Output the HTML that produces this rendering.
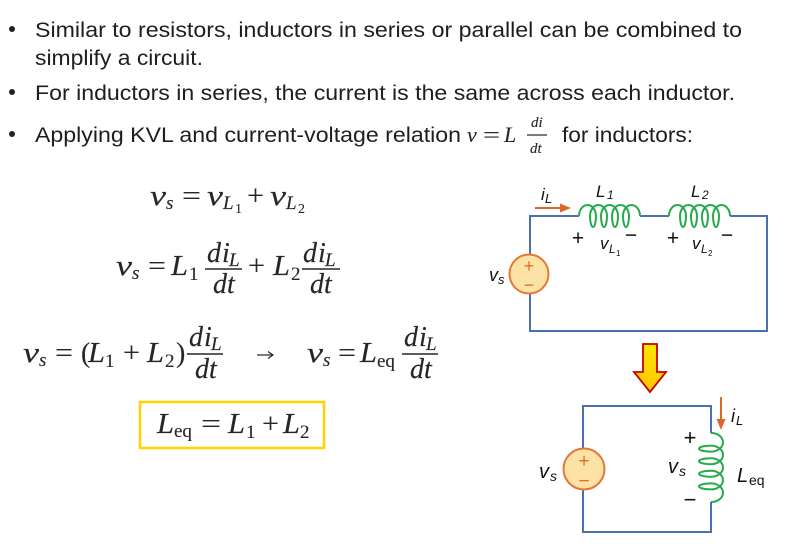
<!DOCTYPE html>
<html>
<head>
<meta charset="utf-8">
<style>
  html,body{margin:0;padding:0;background:#fff;}
  svg{display:block;}
  .bt{font-family:"Liberation Sans",Arial,sans-serif;font-size:21.5px;fill:#1e1e1e;}
  .mi{font-family:"Liberation Serif","Times New Roman",serif;font-style:italic;fill:#262626;stroke:#262626;stroke-width:0.15;}
  .mu{font-family:"Liberation Serif","Times New Roman",serif;fill:#262626;stroke:#262626;stroke-width:0.12;}
  .ci{font-family:"Liberation Sans",Arial,sans-serif;font-style:italic;fill:#111;}
  .cu{font-family:"Liberation Sans",Arial,sans-serif;fill:#111;}
  .wire{stroke:#4a70b3;stroke-width:2;fill:none;}
  .coil{stroke:#25aa4c;stroke-width:2;fill:none;}
</style>
</head>
<body>
<svg width="808" height="547" viewBox="0 0 808 547" xmlns="http://www.w3.org/2000/svg">
  <rect width="808" height="547" fill="#fff"/>

  <!-- Bullets -->
  <circle cx="12" cy="29" r="3" fill="#222"/>
  <circle cx="12" cy="92" r="3" fill="#222"/>
  <circle cx="12" cy="134" r="3" fill="#222"/>
  <text class="bt" x="35" y="37" textLength="707" lengthAdjust="spacingAndGlyphs">Similar to resistors, inductors in series or parallel can be combined to</text>
  <text class="bt" x="35" y="65" textLength="168" lengthAdjust="spacingAndGlyphs">simplify a circuit.</text>
  <text class="bt" x="35" y="100" textLength="700" lengthAdjust="spacingAndGlyphs">For inductors in series, the current is the same across each inductor.</text>
  <text class="bt" x="35" y="142" textLength="426" lengthAdjust="spacingAndGlyphs">Applying KVL and current-voltage relation</text>
  <text class="mi" x="467" y="142" font-size="22" style="stroke-width:0.1">v</text>
  <text class="mu" x="483" y="142" font-size="22" textLength="17" lengthAdjust="spacingAndGlyphs" style="stroke-width:0.1">=</text>
  <text class="mi" x="504" y="142" font-size="22" style="stroke-width:0.1">L</text>
  <text class="mi" x="531" y="127" font-size="15" style="stroke-width:0.1">di</text>
  <line x1="527" y1="135" x2="547" y2="135" stroke="#2a2a2a" stroke-width="1.3"/>
  <text class="mi" x="530" y="153" font-size="15" style="stroke-width:0.1">dt</text>
  <text class="bt" x="562" y="142" textLength="131" lengthAdjust="spacingAndGlyphs">for inductors:</text>

  <!-- Eq 1 -->
  <g font-size="28">
    <text class="mi" x="150" y="205" textLength="16" lengthAdjust="spacingAndGlyphs">v</text>
    <text class="mi" x="166" y="209" font-size="19">s</text>
    <text class="mu" x="182" y="205" textLength="19" lengthAdjust="spacingAndGlyphs">=</text>
    <text class="mi" x="207" y="205" textLength="16" lengthAdjust="spacingAndGlyphs">v</text>
    <text class="mi" x="223" y="209" font-size="19">L</text>
    <text class="mu" x="235" y="213" font-size="14">1</text>
    <text class="mu" x="247" y="205" textLength="17" lengthAdjust="spacingAndGlyphs">+</text>
    <text class="mi" x="270" y="205" textLength="16" lengthAdjust="spacingAndGlyphs">v</text>
    <text class="mi" x="286" y="209" font-size="19">L</text>
    <text class="mu" x="298" y="213" font-size="14">2</text>
  </g>

  <!-- Eq 2 -->
  <g font-size="28">
    <text class="mi" x="116" y="275" textLength="16" lengthAdjust="spacingAndGlyphs">v</text>
    <text class="mi" x="132" y="279" font-size="19">s</text>
    <text class="mu" x="148" y="275" textLength="18" lengthAdjust="spacingAndGlyphs">=</text>
    <text class="mi" x="171" y="275" textLength="17" lengthAdjust="spacingAndGlyphs">L</text>
    <text class="mu" x="189" y="280" font-size="19">1</text>
    <text class="mi" x="207" y="262">d</text>
    <text class="mi" x="222" y="262">i</text>
    <text class="mi" x="229" y="266" font-size="19">L</text>
    <line x1="205" y1="269" x2="242" y2="269" stroke="#262626" stroke-width="1.4"/>
    <text class="mi" x="213" y="293">dt</text>
    <text class="mu" x="248" y="275" textLength="17" lengthAdjust="spacingAndGlyphs">+</text>
    <text class="mi" x="273" y="275" textLength="17" lengthAdjust="spacingAndGlyphs">L</text>
    <text class="mu" x="291" y="280" font-size="19">2</text>
    <text class="mi" x="303" y="262">d</text>
    <text class="mi" x="318" y="262">i</text>
    <text class="mi" x="325" y="266" font-size="19">L</text>
    <line x1="302" y1="269" x2="340" y2="269" stroke="#262626" stroke-width="1.4"/>
    <text class="mi" x="310" y="293">dt</text>
  </g>

  <!-- Eq 3 -->
  <g font-size="28">
    <text class="mi" x="23" y="362" textLength="16" lengthAdjust="spacingAndGlyphs">v</text>
    <text class="mi" x="39" y="366" font-size="19">s</text>
    <text class="mu" x="55" y="362" textLength="18" lengthAdjust="spacingAndGlyphs">=</text>
    <text class="mu" x="81" y="362">(</text>
    <text class="mi" x="88" y="362" textLength="17" lengthAdjust="spacingAndGlyphs">L</text>
    <text class="mu" x="105" y="367" font-size="19">1</text>
    <text class="mu" x="123" y="362" textLength="17" lengthAdjust="spacingAndGlyphs">+</text>
    <text class="mi" x="147" y="362" textLength="17" lengthAdjust="spacingAndGlyphs">L</text>
    <text class="mu" x="165" y="367" font-size="19">2</text>
    <text class="mu" x="176" y="362">)</text>
    <text class="mi" x="189" y="346">d</text>
    <text class="mi" x="204" y="346">i</text>
    <text class="mi" x="211" y="350" font-size="19">L</text>
    <line x1="187" y1="354" x2="223" y2="354" stroke="#262626" stroke-width="1.4"/>
    <text class="mi" x="195" y="378">dt</text>
    <line x1="257" y1="355" x2="272" y2="355" stroke="#262626" stroke-width="1.2"/>
    <path d="M268,351.5 L273,355 L268,358.5" fill="none" stroke="#262626" stroke-width="1.2"/>
    <text class="mi" x="307" y="362" textLength="16" lengthAdjust="spacingAndGlyphs">v</text>
    <text class="mi" x="323" y="366" font-size="19">s</text>
    <text class="mu" x="338" y="362" textLength="18" lengthAdjust="spacingAndGlyphs">=</text>
    <text class="mi" x="360" y="362" textLength="17" lengthAdjust="spacingAndGlyphs">L</text>
    <text class="mu" x="377" y="367" font-size="19">eq</text>
    <text class="mi" x="404" y="346">d</text>
    <text class="mi" x="419" y="346">i</text>
    <text class="mi" x="426" y="350" font-size="19">L</text>
    <line x1="402" y1="354" x2="438" y2="354" stroke="#262626" stroke-width="1.4"/>
    <text class="mi" x="410" y="378">dt</text>
  </g>

  <!-- Boxed result -->
  <rect x="140" y="402" width="184" height="46" fill="none" stroke="#ffd400" stroke-width="2.5"/>
  <g font-size="28">
    <text class="mi" x="157" y="433" textLength="17" lengthAdjust="spacingAndGlyphs">L</text>
    <text class="mu" x="174" y="437" font-size="19">eq</text>
    <text class="mu" x="201" y="433" textLength="20" lengthAdjust="spacingAndGlyphs">=</text>
    <text class="mi" x="228" y="433" textLength="17" lengthAdjust="spacingAndGlyphs">L</text>
    <text class="mu" x="246" y="438" font-size="19">1</text>
    <text class="mu" x="262" y="433" textLength="17" lengthAdjust="spacingAndGlyphs">+</text>
    <text class="mi" x="283" y="433" textLength="17" lengthAdjust="spacingAndGlyphs">L</text>
    <text class="mu" x="300" y="438" font-size="19">2</text>
  </g>

  <!-- Circuit 1 -->
  <path class="wire" d="M530,254 V216 H579 M640,216 H669 M730,216 H767 V331 H530 V294"/>
  <path class="coil" d="M579,216 A8.5,11 0 0 1 596,216 A3,11 0 0 1 590,216 A8.5,11 0 0 1 607,216 A3,11 0 0 1 601,216 A8.5,11 0 0 1 618,216 A3,11 0 0 1 612,216 A8.5,11 0 0 1 629,216 A3,11 0 0 1 623,216 A8.5,11 0 0 1 640,216"/>
  <path class="coil" d="M669,216 A8.5,11 0 0 1 686,216 A3,11 0 0 1 680,216 A8.5,11 0 0 1 697,216 A3,11 0 0 1 691,216 A8.5,11 0 0 1 708,216 A3,11 0 0 1 702,216 A8.5,11 0 0 1 719,216 A3,11 0 0 1 713,216 A8.5,11 0 0 1 730,216"/>
  <circle cx="529" cy="274" r="19.5" fill="#fde2a6" stroke="#e07a35" stroke-width="2"/>
  <text x="529" y="272" font-family="Liberation Sans, Arial, sans-serif" font-size="18" fill="#e0702e" text-anchor="middle">+</text>
  <text x="529" y="291" font-family="Liberation Sans, Arial, sans-serif" font-size="18" fill="#e0702e" text-anchor="middle">−</text>
  <text class="ci" x="489" y="281" font-size="18">v</text>
  <text class="ci" x="498" y="284" font-size="13">s</text>

  <text class="ci" x="541" y="200" font-size="17">i</text>
  <text class="ci" x="545" y="203" font-size="13">L</text>
  <line x1="535" y1="208" x2="562" y2="208" stroke="#e0652a" stroke-width="2"/>
  <polygon points="560,203.5 571,208 560,212.5" fill="#e0652a"/>

  <text class="ci" x="596" y="197" font-size="17">L</text>
  <text class="ci" x="607" y="199" font-size="12">1</text>
  <text class="cu" x="578" y="245" font-size="21" text-anchor="middle">+</text>
  <text class="ci" x="600" y="249" font-size="17">v</text>
  <text class="ci" x="609" y="253" font-size="12">L</text>
  <text class="cu" x="616" y="256" font-size="8">1</text>
  <text class="cu" x="631" y="242" font-size="21" text-anchor="middle">−</text>

  <text class="ci" x="691" y="197" font-size="17">L</text>
  <text class="ci" x="702" y="199" font-size="12">2</text>
  <text class="cu" x="673" y="245" font-size="21" text-anchor="middle">+</text>
  <text class="ci" x="692" y="249" font-size="17">v</text>
  <text class="ci" x="701" y="253" font-size="12">L</text>
  <text class="cu" x="708" y="256" font-size="8">2</text>
  <text class="cu" x="727" y="242" font-size="21" text-anchor="middle">−</text>

  <!-- Yellow arrow -->
  <defs>
    <linearGradient id="yg" x1="0" y1="0" x2="0" y2="1">
      <stop offset="0" stop-color="#ffe600"/>
      <stop offset="1" stop-color="#ffc400"/>
    </linearGradient>
  </defs>
  <polygon points="643,344 657,344 657,372 666,372 650,392 634,372 643,372" fill="url(#yg)" stroke="#c40000" stroke-width="1.8" stroke-linejoin="miter"/>

  <!-- Circuit 2 -->
  <path class="wire" d="M583,448 V406 H711 V433 M711,502 V532 H583 V490"/>
  <path class="coil" d="M711,433 A12,9.3 0 0 1 711,451.6 A12,3 0 0 1 711,445.6 A12,9.3 0 0 1 711,464.2 A12,3 0 0 1 711,458.2 A12,9.3 0 0 1 711,476.8 A12,3 0 0 1 711,470.8 A12,9.3 0 0 1 711,489.4 A12,3 0 0 1 711,483.4 A12,9.3 0 0 1 711,502"/>
  <circle cx="584" cy="469" r="20.5" fill="#fde2a6" stroke="#e07a35" stroke-width="2"/>
  <text x="584" y="467" font-family="Liberation Sans, Arial, sans-serif" font-size="19" fill="#e0702e" text-anchor="middle">+</text>
  <text x="584" y="487" font-family="Liberation Sans, Arial, sans-serif" font-size="19" fill="#e0702e" text-anchor="middle">−</text>
  <text class="ci" x="539" y="478" font-size="20">v</text>
  <text class="ci" x="550" y="481" font-size="14">s</text>

  <line x1="721" y1="397" x2="721" y2="421" stroke="#e0652a" stroke-width="2"/>
  <polygon points="716.5,419 721,430 725.5,419" fill="#e0652a"/>
  <text class="ci" x="731" y="422" font-size="18">i</text>
  <text class="ci" x="736" y="425" font-size="13">L</text>

  <text class="cu" x="690" y="445" font-size="22" text-anchor="middle">+</text>
  <text class="ci" x="668" y="473" font-size="20">v</text>
  <text class="ci" x="679" y="476" font-size="14">s</text>
  <text class="cu" x="690" y="507" font-size="22" text-anchor="middle">−</text>
  <text class="ci" x="737" y="482" font-size="20">L</text>
  <text class="cu" x="749" y="485" font-size="14">eq</text>
</svg>
</body>
</html>
